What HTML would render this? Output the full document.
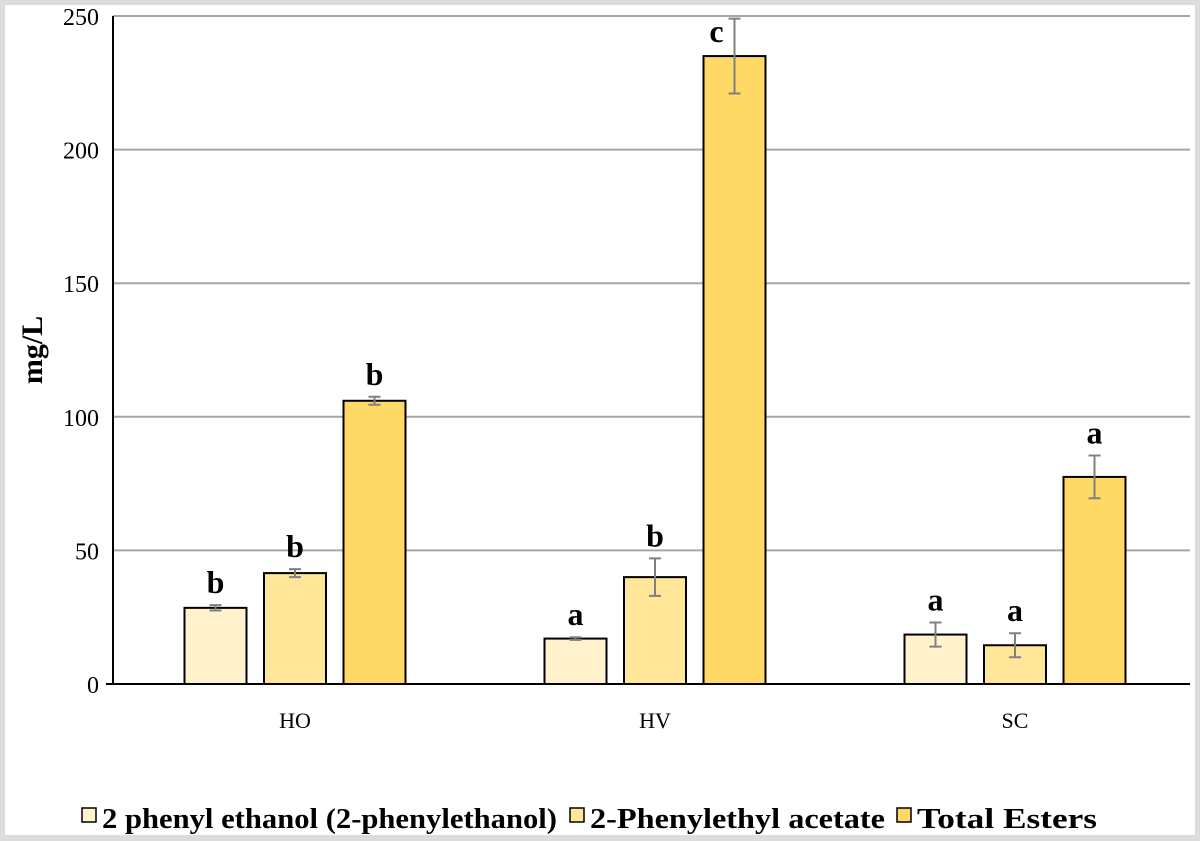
<!DOCTYPE html>
<html><head><meta charset="utf-8"><style>
html,body{margin:0;padding:0;background:#dcdcdc;}
svg{display:block;font-family:"Liberation Serif",serif;}
</style></head><body>
<svg width="1200" height="841">
<rect x="5" y="5" width="1190" height="830" fill="#fff"/>
<g id="grid"></g><g id="bars"></g>
<text x="42" y="350" font-size="30" font-weight="bold" text-anchor="middle" transform="rotate(-90 42 350)">mg/L</text>
<g id="legend" font-size="28" font-weight="bold"></g>
</svg>
<script>
const categories=["HO","HV","SC"];
const seriesNames=["2 phenyl ethanol (2-phenylethanol)","2-Phenylethyl acetate","Total Esters"];
const phenylethanol=[28.5,17,18.5];
const phenylethanolErr=[1,0.5,4.5];
const phenylacetate=[41.5,40,14.5];
const phenylacetateErr=[1.5,7,4.5];
const totalEsters=[106,235,77.5];
const totalEstersErr=[1.5,14,8];
const letters=[["b","a","a"],["b","b","a"],["b","c","a"]];
const yTicks=[0,50,100,150,200,250];
const colors=["#fff2cc","#ffe699","#ffd966"];
const series=[phenylethanol,phenylacetate,totalEsters];
const errs=[phenylethanolErr,phenylacetateErr,totalEstersErr];
const X0=113,X1=1193,Y0=684,Y1=16,YMAX=250;
const y=v=>Y0-(v/YMAX)*(Y0-Y1);
const catW=(X1-X0)/categories.length;
const barW=62,step=79.5;
const ns="http://www.w3.org/2000/svg";
function mk(tag,attrs,parent){const e=document.createElementNS(ns,tag);for(const k in attrs)e.setAttribute(k,attrs[k]);parent.appendChild(e);return e;}
const grid=document.getElementById('grid'),bars=document.getElementById('bars'),leg=document.getElementById('legend');
yTicks.forEach(t=>{
  if(t>0){const l=mk('line',{x1:X0,x2:1190,y1:y(t),y2:y(t),stroke:'#a6a6a6','stroke-width':2},grid);
  
  }
  const tx=mk('text',{x:X0-14,y:y(t)+9,'font-size':24,'text-anchor':'end'},grid);tx.textContent=t;
  
  
});
const ax=mk('line',{x1:X0,x2:X0,y1:Y1,y2:Y0,stroke:'#000','stroke-width':2},grid);


const xa=mk('line',{x1:X0-7,x2:1190,y1:Y0,y2:Y0,stroke:'#000','stroke-width':2},grid);


categories.forEach((c,i)=>{
  const cx=X0+catW*(i+0.5)+2;
  const lt=mk('text',{x:cx,y:Y0+44,'font-size':22,'text-anchor':'middle'},bars);lt.textContent=c;
  
  
  series.forEach((s,j)=>{
    const bx=cx+(j-1)*step-barW/2,v=s[i],e=errs[j][i];
    const r=mk('rect',{x:bx,y:y(v),width:barW,height:Y0-y(v),fill:colors[j],stroke:'#000','stroke-width':2},bars);
    
    
    const mx=bx+barW/2;
    const eb=mk('path',{d:`M${mx},${y(v+e)}V${y(v-e)}M${mx-6},${y(v+e)}H${mx+6}M${mx-6},${y(v-e)}H${mx+6}`,stroke:'#808080','stroke-width':2,fill:'none'},bars);
    
    
    let ly=y(v+e)-12,lx=mx;
    if(ly<42){ly=42;lx=mx-18;}
    const t=mk('text',{x:lx,y:ly,'font-size':32,'font-weight':'bold','text-anchor':'middle'},bars);t.textContent=letters[j][i];
    
    
  });
});
const legX=[82,570,897];
const legLen=[455,295,180];
seriesNames.forEach((n,j)=>{
  const r=mk('rect',{x:legX[j],y:808,width:14,height:14,fill:colors[j],stroke:'#000','stroke-width':1.5},leg);
  
  
  const t=mk('text',{x:legX[j]+20,y:828,textLength:legLen[j],lengthAdjust:'spacingAndGlyphs'},leg);t.textContent=n;
  
  
});
</script>
</body></html>
